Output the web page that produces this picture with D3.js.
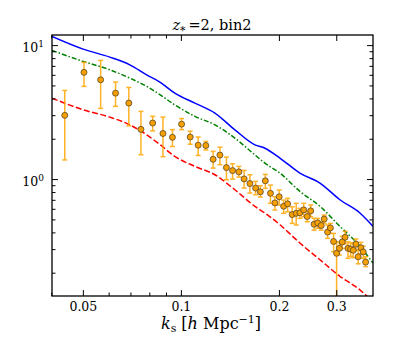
<!DOCTYPE html>
<html>
<head>
<meta charset="utf-8">
<script src="https://cdn.jsdelivr.net/npm/d3@7"></script>
<style>
body { margin: 0; background: #fff; }
text { font-family: "DejaVu Serif", serif; fill: #000; }
</style>
</head>
<body>
<script>
// model curves, sampled along k
const kModel = [0.0402, 0.0501, 0.0605, 0.0697, 0.0785, 0.0862, 0.0958, 0.1104, 0.1272, 0.1465, 0.1688, 0.1811, 0.2014, 0.2320, 0.2673, 0.3078, 0.3546, 0.3888]
const blue  = [11.6, 9.33, 8.14, 7.13, 6.00, 5.30, 4.38, 3.69, 3.11, 2.33, 1.80, 1.70, 1.435, 1.109, 0.933, 0.701, 0.558, 0.444]
const green = [9.13, 7.56, 6.54, 5.67, 4.92, 4.27, 3.58, 2.94, 2.54, 2.02, 1.515, 1.316, 1.109, 0.809, 0.626, 0.444, 0.315, 0.236]
const red   = [4.02, 3.29, 2.90, 2.54, 2.14, 1.81, 1.477, 1.244, 1.077, 0.832, 0.626, 0.558, 0.456, 0.333, 0.250, 0.188, 0.149, 0.121]

// measured points with errors
const kData = [0.0440, 0.0504, 0.0567, 0.0630, 0.0692, 0.0754, 0.0819, 0.0881, 0.0942, 0.1005,
  0.1068, 0.1130, 0.1193, 0.1256, 0.1318, 0.1380, 0.1441, 0.1507, 0.1564, 0.1629,
  0.1696, 0.1754, 0.1817, 0.1884, 0.1944, 0.2004, 0.2068, 0.2127, 0.2197, 0.2260,
  0.2320, 0.2383, 0.2443, 0.2504, 0.2565, 0.2631, 0.2697, 0.2755, 0.2822, 0.2878,
  0.2944, 0.3007, 0.3068, 0.3129, 0.3194, 0.3258, 0.3321, 0.3384, 0.3447, 0.3503,
  0.3571, 0.3630, 0.3692]
const pData = [2.99, 6.26, 5.51, 4.38, 3.69, 2.35, 2.62, 2.19, 2.05, 2.57,
  2.06, 1.79, 1.78, 1.405, 1.51, 1.218, 1.157, 1.132, 1.003, 0.926,
  0.857, 0.803, 0.970, 0.783, 0.664, 0.737, 0.627, 0.653, 0.543, 0.555,
  0.560, 0.589, 0.525, 0.579, 0.460, 0.471, 0.450, 0.503, 0.402, 0.432,
  0.342, 0.279, 0.304, 0.339, 0.368, 0.304, 0.300, 0.294, 0.327, 0.263,
  0.307, 0.286, 0.240]
const errHi = [1.6, 1.17, 2.18, 0.92, 1.14, 0.85, 0.32, 0.71, 0.29, 0.26,
  0.22, 0.27, 0.13, 0.205, 0.22, 0.24, 0.143, 0.112, 0.158, 0.151,
  0.104, 0.088, 0.114, 0.119, 0.074, 0.091, 0.07, 0.065, 0.078, 0.104,
  0.044, 0.07, 0.045, 0.061, 0.049, 0.038, 0.03, 0.036, 0.052, 0.035,
  0.051, 0.06, 0.036, 0.035, 0.04, 0.036, 0.035, 0.035, 0.03, 0.03,
  0.03, 0.03, 0.023]
const errLo = [1.6, 1.34, 2.14, 0.89, 1.19, 0.83, 0.33, 0.72, 0.30, 0.23,
  0.24, 0.29, 0.13, 0.197, 0.23, 0.23, 0.157, 0.097, 0.146, 0.14,
  0.093, 0.069, 0.118, 0.124, 0.077, 0.097, 0.072, 0.083, 0.076, 0.101,
  0.051, 0.066, 0.045, 0.056, 0.044, 0.042, 0.034, 0.036, 0.041, 0.039,
  0.055, 0.2, 0.033, 0.035, 0.04, 0.048, 0.035, 0.035, 0.03, 0.03,
  0.03, 0.03, 0.018]

const xMajor = [0.05, 0.1, 0.2, 0.3]
const xMinor = [0.04, 0.06, 0.07, 0.08, 0.09]
const yMajor = [1, 10]
const yMinor = [0.2, 0.3, 0.4, 0.5, 0.6, 0.7, 0.8, 0.9, 2, 3, 4, 5, 6, 7, 8, 9]

const W = 415, H = 346
const L = 52, T = 35, R = 373, B = 296

const x = d3.scaleLog().domain([0.0402, 0.389]).range([L, R])
const y = d3.scaleLog().domain([0.134, 11.9]).range([B, T])

const svg = d3.select('body').append('svg')
    .attr('width', W)
    .attr('height', H)

svg.append('clipPath').attr('id', 'clip')
    .append('rect')
    .attr('x', L).attr('y', T)
    .attr('width', R - L).attr('height', B - T)

const plot = svg.append('g').attr('clip-path', 'url(#clip)')

const line = vals => d3.line()
    .x((d, i) => x(kModel[i]))
    .y(d => y(d))
    .curve(d3.curveMonotoneX)(vals)

plot.append('path').attr('d', line(red))
    .attr('fill', 'none').attr('stroke', '#ff0000')
    .attr('stroke-width', 1.5).attr('stroke-dasharray', '6,2.5')
plot.append('path').attr('d', line(green))
    .attr('fill', 'none').attr('stroke', '#008000')
    .attr('stroke-width', 1.5).attr('stroke-dasharray', '5,2,1.5,2')
plot.append('path').attr('d', line(blue))
    .attr('fill', 'none').attr('stroke', '#0000ff')
    .attr('stroke-width', 1.5)

// error bars
const pts = kData.map((k, i) => ({k, v: pData[i], hi: pData[i] + errHi[i], lo: Math.max(pData[i] - errLo[i], 0.01)}))
const eb = plot.append('g').attr('stroke', '#ffa500').attr('stroke-width', 1.5).attr('opacity', 0.85)
pts.forEach(d => {
    eb.append('line').attr('x1', x(d.k)).attr('x2', x(d.k)).attr('y1', y(d.hi)).attr('y2', y(d.lo))
    eb.append('line').attr('x1', x(d.k) - 2.5).attr('x2', x(d.k) + 2.5).attr('y1', y(d.hi)).attr('y2', y(d.hi))
    eb.append('line').attr('x1', x(d.k) - 2.5).attr('x2', x(d.k) + 2.5).attr('y1', y(d.lo)).attr('y2', y(d.lo))
})
plot.append('g').selectAll('circle')
    .data(pts).enter()
    .append('circle')
    .attr('cx', d => x(d.k))
    .attr('cy', d => y(d.v))
    .attr('r', 3)
    .attr('fill', '#f5a000')
    .attr('stroke', '#5a4528')
    .attr('stroke-width', 0.8)

// axes, ticks inward on all sides
const addAxis = (axis, tx, ty) => {
    const g = svg.append('g').attr('transform', `translate(${tx},${ty})`).call(axis)
    g.select('.domain').remove()
    g.selectAll('line').attr('stroke', '#000').attr('stroke-width', 1)
    return g
}
const gx = addAxis(d3.axisBottom(x).tickValues(xMajor).tickSizeInner(-6).tickSizeOuter(0).tickPadding(6).tickFormat(d => String(d)), 0, B)
gx.selectAll('text').style('font-size', '12.5px').style('font-family', '"DejaVu Serif", serif')
addAxis(d3.axisBottom(x).tickValues(xMinor).tickSizeInner(-3.5).tickSizeOuter(0).tickFormat(''), 0, B)
addAxis(d3.axisTop(x).tickValues(xMajor).tickSizeInner(-6).tickSizeOuter(0).tickFormat(''), 0, T)
addAxis(d3.axisTop(x).tickValues(xMinor).tickSizeInner(-3.5).tickSizeOuter(0).tickFormat(''), 0, T)

const gy = addAxis(d3.axisLeft(y).tickValues(yMajor).tickSizeInner(-6).tickSizeOuter(0).tickPadding(8).tickFormat(''), L, 0)
gy.selectAll('.tick').append('text')
    .attr('x', -8).attr('dy', '0.5em')
    .attr('text-anchor', 'end')
    .style('font-size', '12.5px')
    .text('10')
    .append('tspan')
    .attr('dy', '-0.55em')
    .style('font-size', '9px')
    .text(d => Math.round(Math.log10(d)))
addAxis(d3.axisLeft(y).tickValues(yMinor).tickSizeInner(-3.5).tickSizeOuter(0).tickFormat(''), L, 0)
addAxis(d3.axisRight(y).tickValues(yMajor).tickSizeInner(-6).tickSizeOuter(0).tickFormat(''), R, 0)
addAxis(d3.axisRight(y).tickValues(yMinor).tickSizeInner(-3.5).tickSizeOuter(0).tickFormat(''), R, 0)

svg.append('rect')
    .attr('x', L).attr('y', T)
    .attr('width', R - L).attr('height', B - T)
    .attr('fill', 'none').attr('stroke', '#000').attr('stroke-width', 1.3)

// title
const title = svg.append('text')
    .attr('x', 212).attr('y', 30)
    .attr('text-anchor', 'middle')
    .style('font-size', '14.5px')
title.append('tspan').style('font-style', 'italic').text('z')
title.append('tspan').attr('dy', 4).style('font-size', '11px').text('*')
title.append('tspan').attr('dy', -4).text('\u2009=2, bin2')

// x label
const xl = svg.append('text')
    .attr('x', 211).attr('y', 329)
    .attr('text-anchor', 'middle')
    .style('font-size', '16px')
xl.append('tspan').style('font-style', 'italic').text('k')
xl.append('tspan').attr('dy', 3).style('font-size', '11px').text('s')
xl.append('tspan').attr('dy', -3).text(' [')
xl.append('tspan').style('font-style', 'italic').text('h')
xl.append('tspan').text(' Mpc')
xl.append('tspan').attr('dy', -6).style('font-size', '11px').text('\u22121')
xl.append('tspan').attr('dy', 6).text(']')
</script>
</body>
</html>
